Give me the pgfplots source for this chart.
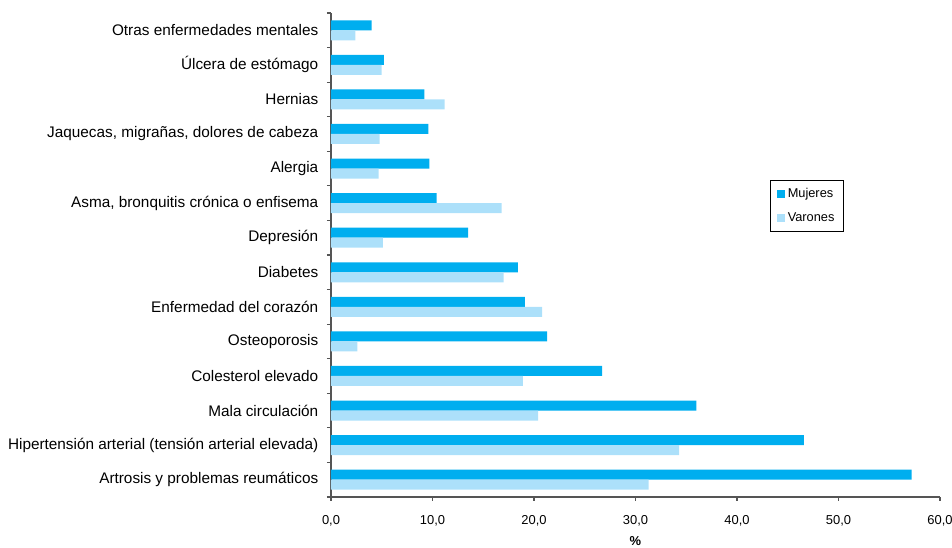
\documentclass[border=0pt]{standalone}
\usepackage{pgfplots}
\pgfplotsset{compat=1.18}
\usepackage{fontspec}
\setmainfont{Liberation Sans}

\definecolor{mujeres}{RGB}{0,174,239}
\definecolor{varones}{RGB}{172,224,250}
\definecolor{axisgray}{RGB}{85,85,85}

\begin{document}
\begin{tikzpicture}
\path[use as bounding box] (-248.25pt,-38.25pt) rectangle (465.75pt,372.75pt);
\begin{axis}[
  at={(0pt,0pt)}, anchor=south west,
  scale only axis, width=456.75pt, height=363pt,
  xbar, bar width=7.5pt,
  xmin=0, xmax=60, xtick={0,10,...,60},
  ymin=-0.5, ymax=13.5,
  ytick={0,...,13},
  yticklabels={
    Artrosis y problemas reumáticos,
    Hipertensión arterial (tensión arterial elevada),
    Mala circulación,
    Colesterol elevado,
    Osteoporosis,
    Enfermedad del corazón,
    Diabetes,
    Depresión,
    {Asma, bronquitis crónica o enfisema},
    Alergia,
    {Jaquecas, migrañas, dolores de cabeza},
    Hernias,
    Úlcera de estómago,
    Otras enfermedades mentales},
  minor ytick={-0.5,0.5,...,13.5},
  axis lines*=left,
  axis line style={axisgray, line width=1.1pt},
  tick align=outside,
  major tick length=3pt,
  minor tick length=3pt,
  every tick/.style={axisgray, line width=0.8pt},
  major y tick style={draw=none},
  yticklabel style={font=\fontsize{11.5}{13}\selectfont, xshift=-3pt},
  xticklabel style={font=\fontsize{9.7}{11}\selectfont, yshift=-7pt},
  /pgf/number format/.cd, fixed, fixed zerofill, precision=1, use comma, assume math mode=true,
  /pgfplots/.cd,
  xlabel={\textbf{\%}},
  xlabel style={font=\fontsize{9.7}{11}\selectfont, yshift=-1pt},
  legend cell align=left,
  legend style={at={(0.721,0.655)}, anchor=north west,
    draw=black, line width=0.5pt,
    font=\fontsize{9.6}{11}\selectfont,
    inner xsep=5pt, inner ysep=4pt, row sep=6pt},
]
\addplot[draw=none, fill=mujeres, bar shift=3.75pt,
  legend image code/.code={\fill[mujeres] (0pt,-3pt) rectangle (6pt,3pt);}]
  coordinates {
  (57.2,0) (46.6,1) (36.0,2) (26.7,3) (21.3,4) (19.1,5) (18.4,6)
  (13.5,7) (10.4,8) (9.7,9) (9.6,10) (9.2,11) (5.2,12) (4.0,13)};
\addlegendentry{Mujeres}
\addplot[draw=none, fill=varones, bar shift=-3.75pt,
  legend image code/.code={\fill[varones] (0pt,-3pt) rectangle (6pt,3pt);}]
  coordinates {
  (31.3,0) (34.3,1) (20.4,2) (18.9,3) (2.6,4) (20.8,5) (17.0,6)
  (5.1,7) (16.8,8) (4.7,9) (4.8,10) (11.2,11) (5.0,12) (2.4,13)};
\addlegendentry{Varones}
\end{axis}
\end{tikzpicture}
\end{document}
